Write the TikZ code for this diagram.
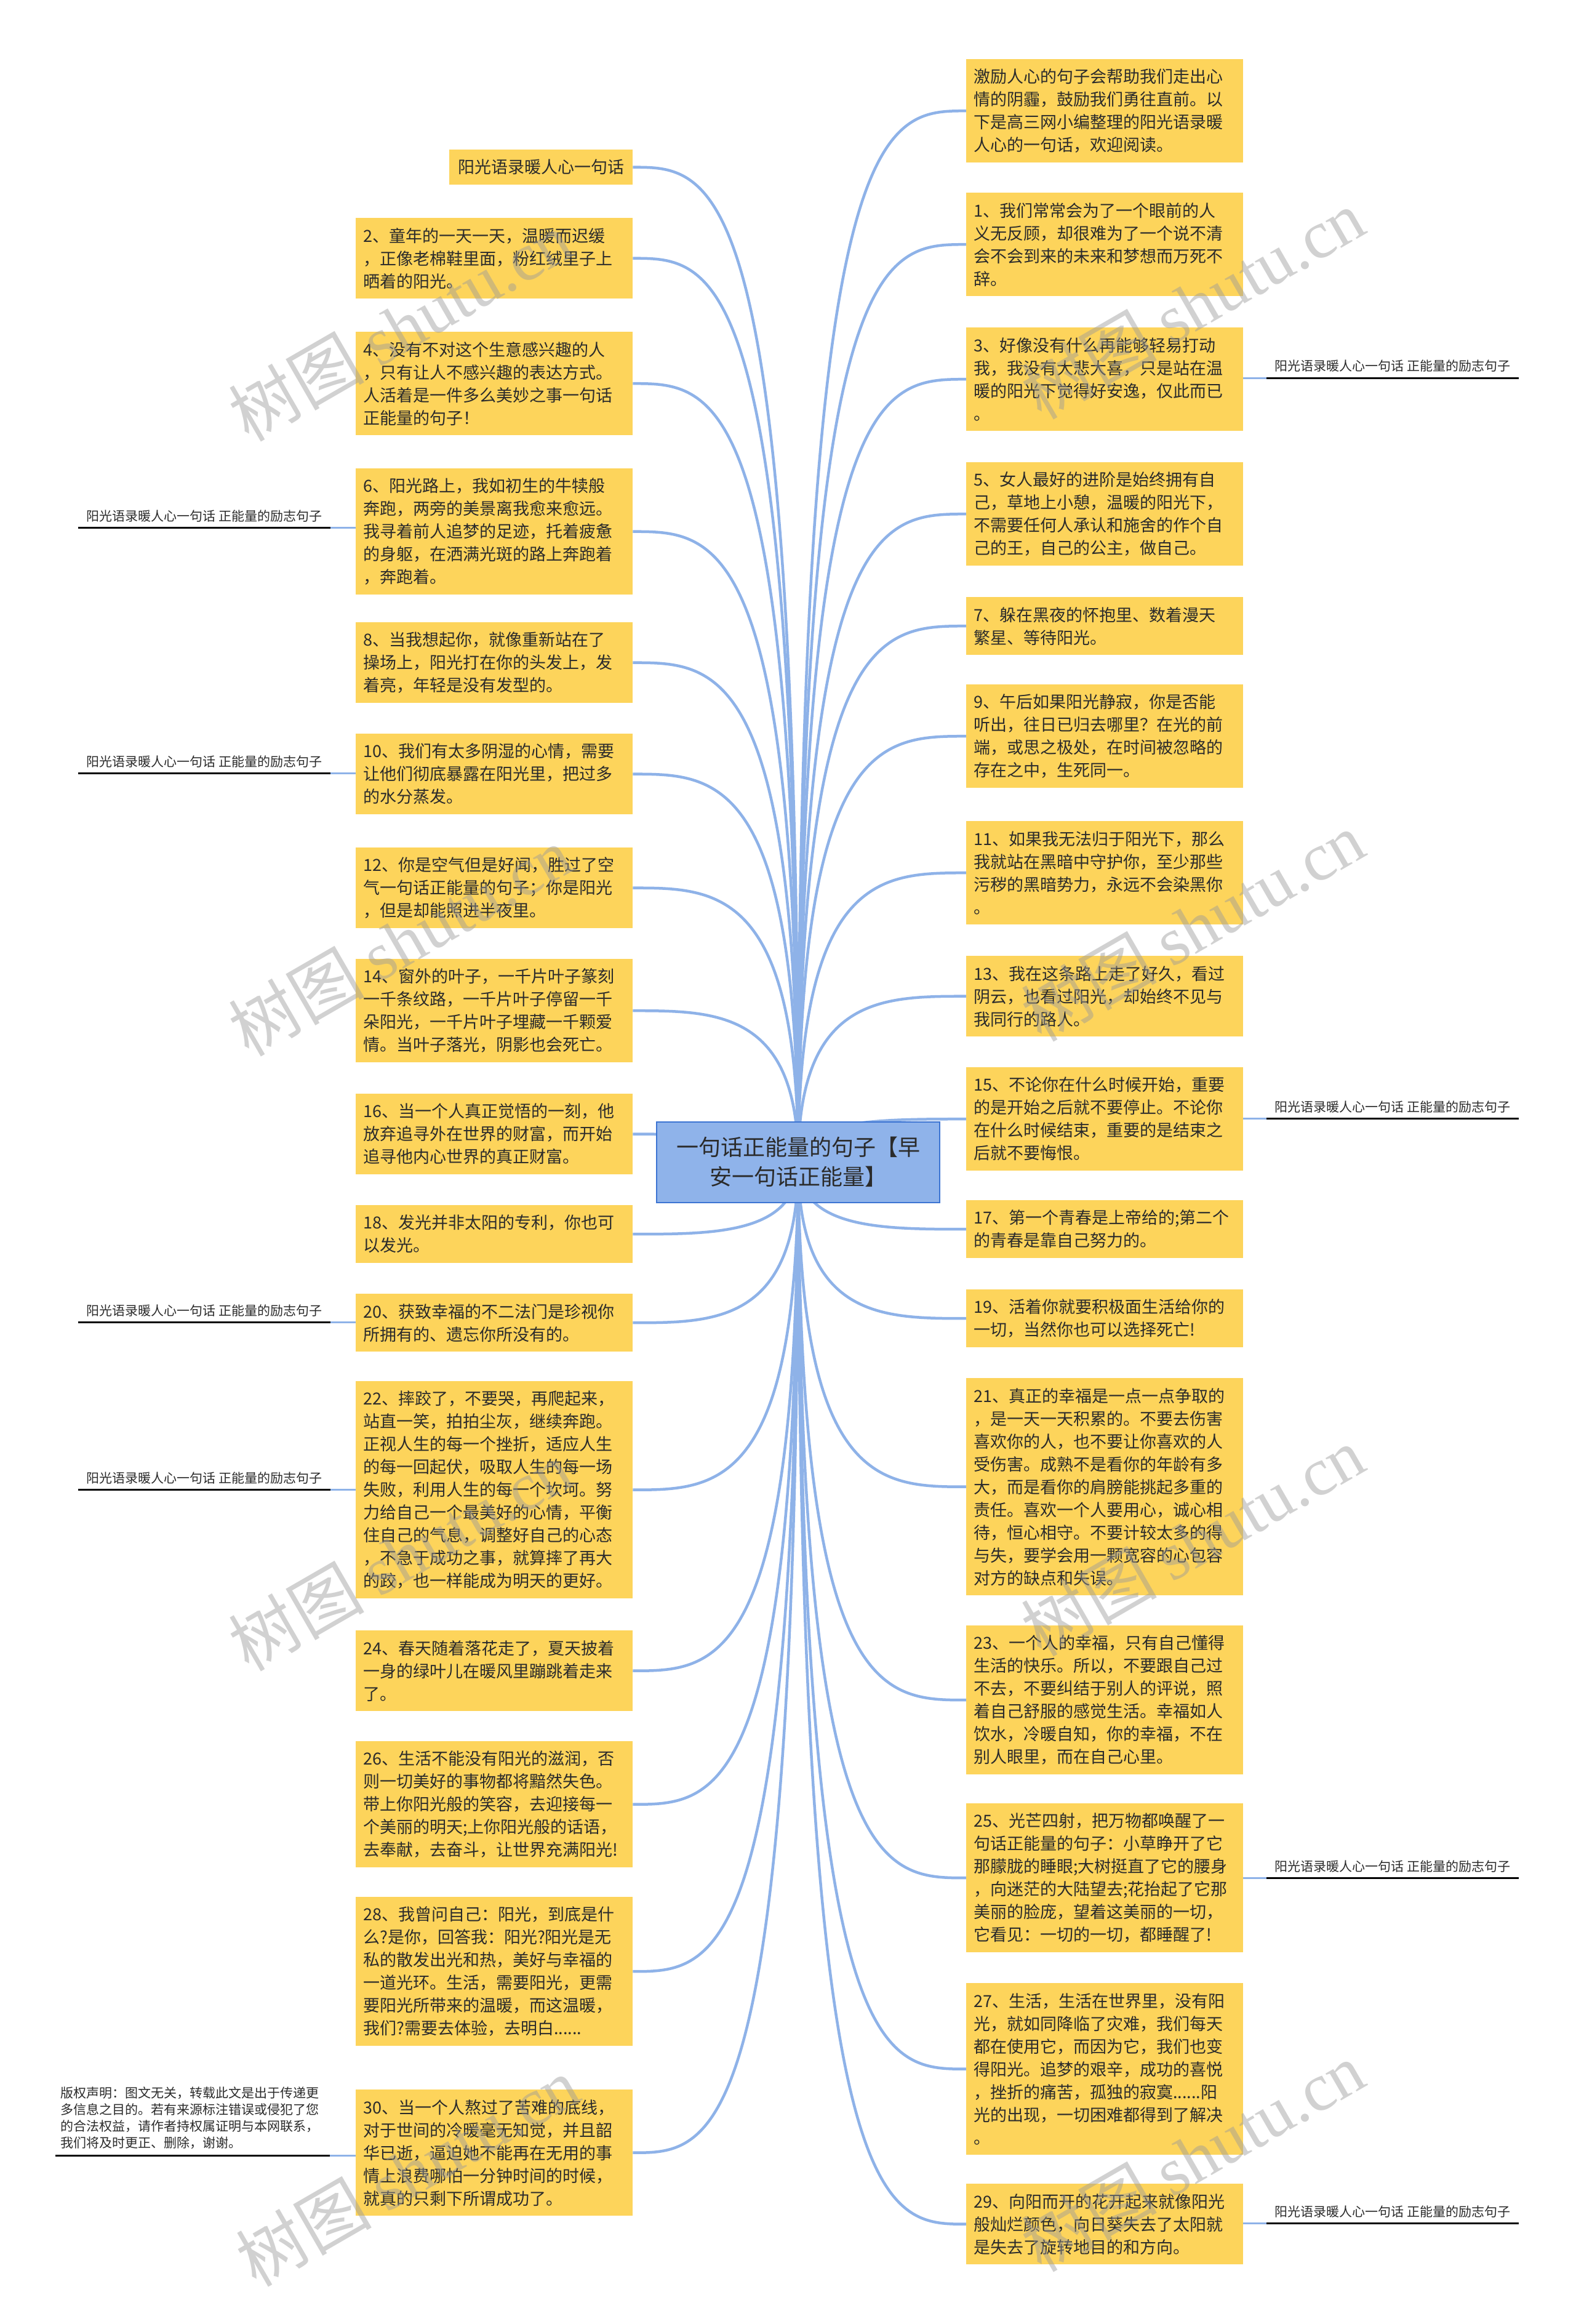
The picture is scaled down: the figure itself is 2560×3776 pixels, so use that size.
\documentclass[tikz,border=0pt]{standalone}
\usepackage{fontspec}
\setmainfont{Noto Sans CJK SC}
\newfontfamily\wmserif{Liberation Serif}
\usetikzlibrary{calc,backgrounds}
\definecolor{boxyellow}{HTML}{FDD45B}
\definecolor{lineblue}{HTML}{8EB2E8}
\definecolor{centerblue}{HTML}{8FB3EA}
\definecolor{centeredge}{HTML}{3C74D2}
\definecolor{textdark}{HTML}{2B2B2B}
\definecolor{wmgray}{HTML}{9A9A9A}
\begin{document}
\begin{tikzpicture}[x=1pt,y=-1pt,
  qbox/.style={fill=boxyellow, anchor=north west, text width=426pt, inner xsep=12pt, inner ysep=0pt,
    align=left, font=\fontsize{27}{37}\selectfont, text=textdark},
  nl/.style={minimum height={#1*37+20}},
  cbox/.style={fill=centerblue, draw=centeredge, line width=2pt, minimum width=460pt, minimum height=131pt,
    align=center, font=\fontsize{36}{48}\selectfont, text=textdark, inner sep=0pt},
  link/.style={draw=lineblue, line width=4.5pt},
  sidelink/.style={draw=lineblue, line width=3pt},
  uline/.style={draw=black, line width=3pt},
  sidelab/.style={anchor=south west, font=\fontsize{21}{26}\selectfont, text=textdark, minimum width=410pt,
    inner xsep=0pt, inner ysep=9pt},
  wm/.style={rotate=30, font=\fontsize{110}{110}\selectfont, text=wmgray, text opacity=0.45}]
\useasboundingbox (0,0) rectangle (2560,3776);

% ---- left column ----
\node[qbox,nl=1,text width=274pt,align=center] (t) at (730,243) {阳光语录暖人心一句话};
\node[qbox,nl=3] (b2) at (578,354) {2、童年的一天一天，温暖而迟缓\\，正像老棉鞋里面，粉红绒里子上\\晒着的阳光。};
\node[qbox,nl=4] (b4) at (578,539) {4、没有不对这个生意感兴趣的人\\，只有让人不感兴趣的表达方式。\\人活着是一件多么美妙之事一句话\\正能量的句子！};
\node[qbox,nl=5] (b6) at (578,761) {6、阳光路上，我如初生的牛犊般\\奔跑，两旁的美景离我愈来愈远。\\我寻着前人追梦的足迹，托着疲惫\\的身躯，在洒满光斑的路上奔跑着\\，奔跑着。};
\node[qbox,nl=3] (b8) at (578,1011) {8、当我想起你，就像重新站在了\\操场上，阳光打在你的头发上，发\\着亮，年轻是没有发型的。};
\node[qbox,nl=3] (b10) at (578,1192) {10、我们有太多阴湿的心情，需要\\让他们彻底暴露在阳光里，把过多\\的水分蒸发。};
\node[qbox,nl=3] (b12) at (578,1377) {12、你是空气但是好闻，胜过了空\\气一句话正能量的句子；你是阳光\\，但是却能照进半夜里。};
\node[qbox,nl=4] (b14) at (578,1558) {14、窗外的叶子，一千片叶子篆刻\\一千条纹路，一千片叶子停留一千\\朵阳光，一千片叶子埋藏一千颗爱\\情。当叶子落光，阴影也会死亡。};
\node[qbox,nl=3] (b16) at (578,1777) {16、当一个人真正觉悟的一刻，他\\放弃追寻外在世界的财富，而开始\\追寻他内心世界的真正财富。};
\node[qbox,nl=2] (b18) at (578,1958) {18、发光并非太阳的专利，你也可\\以发光。};
\node[qbox,nl=2] (b20) at (578,2102) {20、获致幸福的不二法门是珍视你\\所拥有的、遗忘你所没有的。};
\node[qbox,nl=9] (b22) at (578,2244) {22、摔跤了，不要哭，再爬起来，\\站直一笑，拍拍尘灰，继续奔跑。\\正视人生的每一个挫折，适应人生\\的每一回起伏，吸取人生的每一场\\失败，利用人生的每一个坎坷。努\\力给自己一个最美好的心情，平衡\\住自己的气息，调整好自己的心态\\，不急于成功之事，就算摔了再大\\的跤，也一样能成为明天的更好。};
\node[qbox,nl=3] (b24) at (578,2649) {24、春天随着落花走了，夏天披着\\一身的绿叶儿在暖风里蹦跳着走来\\了。};
\node[qbox,nl=5] (b26) at (578,2829) {26、生活不能没有阳光的滋润，否\\则一切美好的事物都将黯然失色。\\带上你阳光般的笑容，去迎接每一\\个美丽的明天;上你阳光般的话语，\\去奉献，去奋斗，让世界充满阳光!};
\node[qbox,nl=6] (b28) at (578,3082) {28、我曾问自己：阳光，到底是什\\么?是你，回答我：阳光?阳光是无\\私的散发出光和热，美好与幸福的\\一道光环。生活，需要阳光，更需\\要阳光所带来的温暖，而这温暖，\\我们?需要去体验，去明白......};
\node[qbox,nl=5] (b30) at (578,3395) {30、当一个人熬过了苦难的底线，\\对于世间的冷暖毫无知觉，并且韶\\华已逝，逼迫她不能再在无用的事\\情上浪费哪怕一分钟时间的时候，\\就真的只剩下所谓成功了。};

% ---- right column ----
\node[qbox,nl=4] (r0) at (1570,96) {激励人心的句子会帮助我们走出心\\情的阴霾，鼓励我们勇往直前。以\\下是高三网小编整理的阳光语录暖\\人心的一句话，欢迎阅读。};
\node[qbox,nl=4] (r1) at (1570,313) {1、我们常常会为了一个眼前的人\\义无反顾，却很难为了一个说不清\\会不会到来的未来和梦想而万死不\\辞。};
\node[qbox,nl=4] (r3) at (1570,532) {3、好像没有什么再能够轻易打动\\我，我没有大悲大喜，只是站在温\\暖的阳光下觉得好安逸，仅此而已\\。};
\node[qbox,nl=4] (r5) at (1570,751) {5、女人最好的进阶是始终拥有自\\己，草地上小憩，温暖的阳光下，\\不需要任何人承认和施舍的作个自\\己的王，自己的公主，做自己。};
\node[qbox,nl=2] (r7) at (1570,970) {7、躲在黑夜的怀抱里、数着漫天\\繁星、等待阳光。};
\node[qbox,nl=4] (r9) at (1570,1112) {9、午后如果阳光静寂，你是否能\\听出，往日已归去哪里？在光的前\\端，或思之极处，在时间被忽略的\\存在之中，生死同一。};
\node[qbox,nl=4] (r11) at (1570,1334) {11、如果我无法归于阳光下，那么\\我就站在黑暗中守护你，至少那些\\污秽的黑暗势力，永远不会染黑你\\。};
\node[qbox,nl=3] (r13) at (1570,1553) {13、我在这条路上走了好久，看过\\阴云，也看过阳光，却始终不见与\\我同行的路人。};
\node[qbox,nl=4] (r15) at (1570,1734) {15、不论你在什么时候开始，重要\\的是开始之后就不要停止。不论你\\在什么时候结束，重要的是结束之\\后就不要悔恨。};
\node[qbox,nl=2] (r17) at (1570,1950) {17、第一个青春是上帝给的;第二个\\的青春是靠自己努力的。};
\node[qbox,nl=2] (r19) at (1570,2095) {19、活着你就要积极面生活给你的\\一切，当然你也可以选择死亡!};
\node[qbox,nl=9] (r21) at (1570,2239) {21、真正的幸福是一点一点争取的\\，是一天一天积累的。不要去伤害\\喜欢你的人，也不要让你喜欢的人\\受伤害。成熟不是看你的年龄有多\\大，而是看你的肩膀能挑起多重的\\责任。喜欢一个人要用心，诚心相\\待，恒心相守。不要计较太多的得\\与失，要学会用一颗宽容的心包容\\对方的缺点和失误。};
\node[qbox,nl=6] (r23) at (1570,2641) {23、一个人的幸福，只有自己懂得\\生活的快乐。所以，不要跟自己过\\不去，不要纠结于别人的评说，照\\着自己舒服的感觉生活。幸福如人\\饮水，冷暖自知，你的幸福，不在\\别人眼里，而在自己心里。};
\node[qbox,nl=6] (r25) at (1570,2930) {25、光芒四射，把万物都唤醒了一\\句话正能量的句子：小草睁开了它\\那朦胧的睡眼;大树挺直了它的腰身\\，向迷茫的大陆望去;花抬起了它那\\美丽的脸庞，望着这美丽的一切，\\它看见：一切的一切，都睡醒了!};
\node[qbox,nl=7] (r27) at (1570,3222) {27、生活，生活在世界里，没有阳\\光，就如同降临了灾难，我们每天\\都在使用它，而因为它，我们也变\\得阳光。追梦的艰辛，成功的喜悦\\，挫折的痛苦，孤独的寂寞......阳\\光的出现，一切困难都得到了解决\\。};
\node[qbox,nl=3] (r29) at (1570,3548) {29、向阳而开的花开起来就像阳光\\般灿烂颜色，向日葵失去了太阳就\\是失去了旋转地目的和方向。};

% ---- center ----
\node[cbox] (c) at (1297,1888) {一句话正能量的句子【早\\安一句话正能量】};

% ---- side labels ----
\node[sidelab] (L1) at (127,857) {阳光语录暖人心一句话 正能量的励志句子};
\node[sidelab] (L2) at (127,1256) {阳光语录暖人心一句话 正能量的励志句子};
\node[sidelab] (L3) at (127,2148) {阳光语录暖人心一句话 正能量的励志句子};
\node[sidelab] (L4) at (127,2420) {阳光语录暖人心一句话 正能量的励志句子};
\node[anchor=south west, text width=430pt, inner xsep=8pt, inner ysep=10pt, align=left,
      font=\fontsize{21}{27}\selectfont, text=textdark] (cp) at (90,3502)
  {版权声明：图文无关，转载此文是出于传递更\\多信息之目的。若有来源标注错误或侵犯了您\\的合法权益，请作者持权属证明与本网联系，\\我们将及时更正、删除，谢谢。};
\node[sidelab] (R1) at (2058,614) {阳光语录暖人心一句话 正能量的励志句子};
\node[sidelab] (R2) at (2058,1817) {阳光语录暖人心一句话 正能量的励志句子};
\node[sidelab] (R3) at (2058,3051) {阳光语录暖人心一句话 正能量的励志句子};
\node[sidelab] (R4) at (2058,3612) {阳光语录暖人心一句话 正能量的励志句子};

\foreach \n in {L1,L2,L3,L4,cp,R1,R2,R3,R4}
  \draw[uline] (\n.south west) -- (\n.south east);
\draw[sidelink] (L1.south east) -- (L1.south east -| b6.west);
\draw[sidelink] (L2.south east) -- (L2.south east -| b10.west);
\draw[sidelink] (L3.south east) -- (L3.south east -| b20.west);
\draw[sidelink] (L4.south east) -- (L4.south east -| b22.west);
\draw[sidelink] (cp.south east) -- (cp.south east -| b30.west);
\draw[sidelink] (R1.south west) -- (R1.south west -| r3.east);
\draw[sidelink] (R2.south west) -- (R2.south west -| r15.east);
\draw[sidelink] (R3.south west) -- (R3.south west -| r25.east);
\draw[sidelink] (R4.south west) -- (R4.south west -| r29.east);

% ---- connectors (behind) ----
\begin{scope}[on background layer]
  \fill[white] (0,0) rectangle (2560,3776);
  \foreach \n in {t,b2,b4,b6,b8,b10,b12,b14,b16,b18,b20,b22,b24,b26,b28,b30}
    \draw[link] (c.center) .. controls (c.center |- \n.east) and ($(c.center |- \n.east)!0.5!(\n.east)$) .. (\n.east);
  \foreach \n in {r0,r1,r3,r5,r7,r9,r11,r13,r15,r17,r19,r21,r23,r25,r27,r29}
    \draw[link] (c.center) .. controls (c.center |- \n.west) and ($(c.center |- \n.west)!0.5!(\n.west)$) .. (\n.west);
\end{scope}

% ---- watermarks ----
\foreach \i/\px/\py in {1/650/530, 2/650/1529, 3/650/2528, 4/662/3528, 5/1938/494, 6/1938/1505, 7/1938/2504, 8/1938/3504}
  \node[wm] (wm\i) at (\px,\py) {树图 {\wmserif shutu.cn}};
\end{tikzpicture}
\end{document}
